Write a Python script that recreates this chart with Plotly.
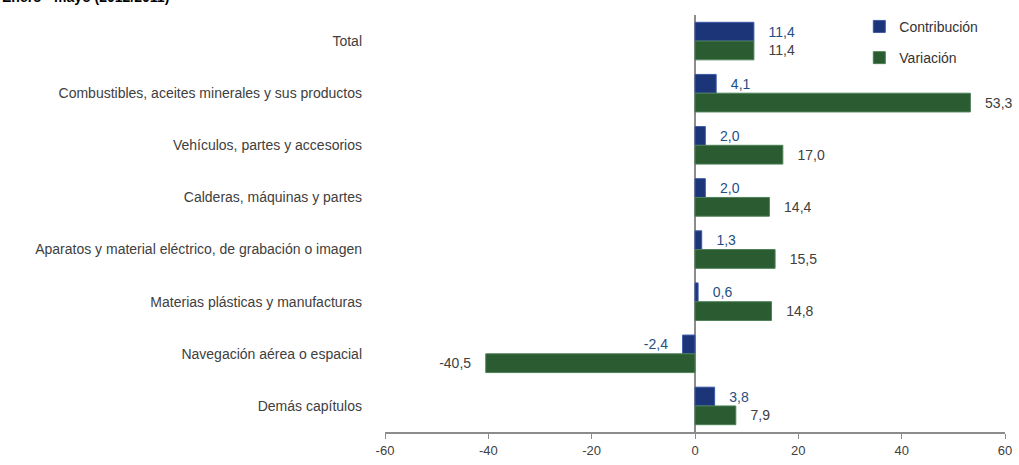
import plotly.graph_objects as go

categories = [
    "Total",
    "Combustibles, aceites minerales y sus productos",
    "Vehículos, partes y accesorios",
    "Calderas, máquinas y partes",
    "Aparatos y material eléctrico, de grabación o imagen",
    "Materias plásticas y manufacturas",
    "Navegación aérea o espacial",
    "Demás capítulos",
]
contribucion = [11.4, 4.1, 2.0, 2.0, 1.3, 0.6, -2.4, 3.8]
variacion = [11.4, 53.3, 17.0, 14.4, 15.5, 14.8, -40.5, 7.9]
x_ticks = [-60, -40, -20, 0, 20, 40, 60]

W, H = 1019, 465
ml, mr, mt, mb = 385, 14, 15, 33
ph = H - mt - mb
pw = W - ml - mr

NB = "\u00a0"

def fmt(v):
    s = f"{v:.1f}".replace(".", ",")
    return (s + NB * 3) if v < 0 else (NB * 3 + s)

fig = go.Figure()
fig.add_trace(go.Bar(
    y=categories, x=contribucion, orientation="h", name="Contribución",
    legendgroup="c",
    marker=dict(color="#1c3478", line=dict(color="#3d5aa8", width=1)),
    text=[fmt(v) for v in contribucion], textposition="outside",
    textfont=dict(color="#1f4e85", size=14, family="Liberation Sans, Arial"),
    cliponaxis=False,
))
fig.add_trace(go.Bar(
    y=categories, x=variacion, orientation="h", name="Variación",
    legendgroup="v",
    marker=dict(color="#2a5b31", line=dict(color="#4d8058", width=1)),
    text=[fmt(v) for v in variacion], textposition="outside",
    textfont=dict(color="#404040", size=14, family="Liberation Sans, Arial"),
    cliponaxis=False,
))

fig.update_layout(
    width=W, height=H,
    margin=dict(l=ml, r=mr, t=mt, b=mb, autoexpand=False),
    paper_bgcolor="white", plot_bgcolor="white",
    barmode="group", bargap=0.28, bargroupgap=0.0,
    font=dict(family="Liberation Sans, Arial", size=12, color="#404040"),
    separators=",.",
    showlegend=True,
    legend=dict(x=0.765, y=1.01, xanchor="left", yanchor="top",
                traceorder="grouped", tracegroupgap=10,
                font=dict(size=14, color="#333333"),
                bgcolor="rgba(0,0,0,0)", itemwidth=30),
    xaxis=dict(range=[-60, 60], tickvals=x_ticks,
               ticktext=[str(t) for t in x_ticks], automargin=False,
               showgrid=False, zeroline=True, zerolinecolor="#8c8c8c",
               zerolinewidth=2, showline=True, linecolor="#8c8c8c",
               linewidth=2, ticks="outside", ticklen=5, tickcolor="#8c8c8c",
               tickfont=dict(size=13, color="#404040")),
    yaxis=dict(autorange="reversed", showgrid=False, showline=False,
               ticks="", ticklabelstandoff=22, automargin=False,
               tickfont=dict(size=14, color="#404040")),
    annotations=[dict(
        text="<b>Enero - mayo (2012/2011)</b>", xref="paper", yref="paper",
        x=-ml / pw, y=1 + (mt + 3) / ph, xanchor="left",
        yanchor="middle", showarrow=False,
        font=dict(size=14, color="#000000", family="Liberation Sans, Arial"),
    )],
)

fig.write_html(
    "out.html",
    config={"displayModeBar": False},
    post_script="document.body.style.margin='0';document.body.style.overflow='hidden';",
)
